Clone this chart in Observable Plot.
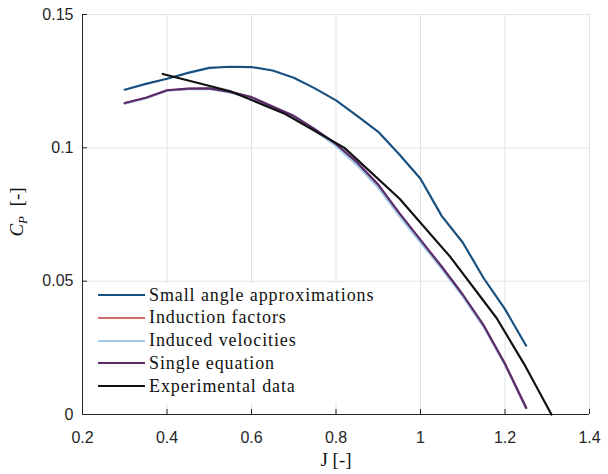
<!DOCTYPE html>
<html>
<head>
<meta charset="utf-8">
<script src="https://cdn.jsdelivr.net/npm/d3@7"></script>
<script src="https://cdn.jsdelivr.net/npm/@observablehq/plot@0.6"></script>
<style>
  body { margin: 0; background: #fff; }
  #wrap { position: relative; width: 608px; height: 474px; }
  #legend {
    position: absolute; left: 84px; top: 283px; width: 300px; height: 120px;
    background: #fff; font-family: "Liberation Serif", serif; font-size: 18px; letter-spacing: 0.9px; color: #111;
  }
  .row { position: absolute; left: 0; height: 22px; display: flex; align-items: center; white-space: nowrap; }
  .sw { width: 47px; height: 0; border-top: 2px solid; margin-left: 14px; margin-right: 4px; }
</style>
</head>
<body>
<div id="wrap"></div>
<script>
// ---- data ----
const seriesNames = ["Small angle approximations", "Induction factors", "Induced velocities", "Single equation", "Experimental data"];
const seriesColors = ["#18507f", "#d26b6b", "#9fc8e6", "#5c2a68", "#111111"];

const modelJ = [0.30, 0.35, 0.40, 0.45, 0.50, 0.55, 0.60, 0.65, 0.70, 0.75, 0.80, 0.85, 0.90, 0.95, 1.00, 1.05, 1.10, 1.15, 1.20, 1.25];
const smallAngle = [0.1218, 0.1240, 0.1259, 0.1281, 0.1300, 0.1304, 0.1303, 0.1290, 0.1263, 0.1223, 0.1178, 0.1120, 0.1060, 0.0975, 0.0884, 0.0745, 0.0645, 0.0510, 0.0395, 0.0258];
const inductionFactors = [0.1167, 0.1187, 0.1215, 0.1221, 0.1222, 0.1209, 0.1189, 0.1153, 0.1118, 0.1067, 0.1011, 0.0940, 0.0857, 0.0750, 0.0650, 0.0551, 0.0446, 0.0330, 0.0188, 0.0024];
const inducedVelocities = [0.1166, 0.1186, 0.1214, 0.1220, 0.1221, 0.1207, 0.1187, 0.1151, 0.1115, 0.1064, 0.1007, 0.0935, 0.0851, 0.0745, 0.0645, 0.0547, 0.0443, 0.0327, 0.0186, 0.0023];
const singleEquation = [0.1168, 0.1188, 0.1216, 0.1222, 0.1223, 0.1210, 0.1190, 0.1155, 0.1120, 0.1070, 0.1015, 0.0945, 0.0862, 0.0755, 0.0655, 0.0555, 0.0450, 0.0333, 0.0190, 0.0025];

const expJ = [0.39, 0.55, 0.68, 0.82, 0.95, 1.07, 1.18, 1.245, 1.31];
const expCp = [0.1277, 0.1212, 0.1127, 0.1000, 0.0810, 0.0592, 0.0362, 0.0190, 0.0000];

const xTicks = [0.2, 0.4, 0.6, 0.8, 1.0, 1.2, 1.4];
const xTickLabels = ["0.2", "0.4", "0.6", "0.8", "1", "1.2", "1.4"];
const yTicks = [0, 0.05, 0.1, 0.15];
const yTickLabels = ["0", "0.05", "0.1", "0.15"];

// ---- table ----
const rows = [];
[smallAngle, inductionFactors, inducedVelocities, singleEquation].forEach((vals, s) => {
  vals.forEach((v, i) => rows.push({J: modelJ[i], Cp: v, series: seriesNames[s]}));
});
expJ.forEach((j, i) => rows.push({J: j, Cp: expCp[i], series: seriesNames[4]}));

const axisColor = "#262626";
const plot = Plot.plot({
  width: 608,
  height: 474,
  marginLeft: 82,
  marginRight: 19,
  marginTop: 14,
  marginBottom: 60,
  style: {fontFamily: "'Liberation Sans', Arial, sans-serif", fontSize: "16px", color: axisColor, background: "#fff"},
  x: {domain: [0.2, 1.4]},
  y: {domain: [0, 0.15]},
  color: {domain: seriesNames, range: seriesColors},
  marks: [
    Plot.gridX(xTicks, {stroke: "#e3e3e3", strokeOpacity: 1, strokeWidth: 1}),
    Plot.gridY(yTicks, {stroke: "#e3e3e3", strokeOpacity: 1, strokeWidth: 1}),
    Plot.axisX(xTicks, {tickSize: -5, tickPadding: 22, tickFormat: (d, i) => xTickLabels[i], stroke: axisColor, fill: axisColor, fontSize: 16, label: null}),
    Plot.axisY(yTicks, {tickSize: -5, tickPadding: 14, tickFormat: (d, i) => yTickLabels[i], stroke: axisColor, fill: axisColor, fontSize: 16, label: null}),
    Plot.ruleY([0], {stroke: axisColor, strokeWidth: 1}),
    Plot.ruleX([0.2], {stroke: axisColor, strokeWidth: 1}),
    Plot.line(rows, {x: "J", y: "Cp", z: "series", stroke: "series", strokeWidth: 2.2})
  ]
});

const wrap = document.getElementById("wrap");
wrap.appendChild(plot);

// axis labels
const svg = d3.select(plot);
svg.append("text")
  .attr("x", 336).attr("y", 466)
  .attr("text-anchor", "middle")
  .attr("font-family", "'Liberation Serif', serif").attr("font-size", 19).attr("fill", "#111")
  .text("J [-]");
const yl = svg.append("text")
  .attr("transform", "translate(23,212) rotate(-90)")
  .attr("text-anchor", "middle")
  .attr("font-family", "'Liberation Serif', serif").attr("font-size", 19).attr("fill", "#111");
yl.append("tspan").attr("font-style", "italic").text("C");
yl.append("tspan").attr("font-style", "italic").attr("font-size", 13).attr("dy", 4).text("P");
yl.append("tspan").attr("dy", -4).text("  [-]");

// legend
const legend = document.createElement("div");
legend.id = "legend";
seriesNames.forEach((name, i) => {
  const r = document.createElement("div");
  r.className = "row";
  r.style.top = (1 + i * 22.8) + "px";
  const sw = document.createElement("div");
  sw.className = "sw";
  sw.style.borderTopColor = seriesColors[i];
  const t = document.createElement("span");
  t.textContent = name;
  r.appendChild(sw); r.appendChild(t);
  legend.appendChild(r);
});
wrap.appendChild(legend);
</script>
</body>
</html>
